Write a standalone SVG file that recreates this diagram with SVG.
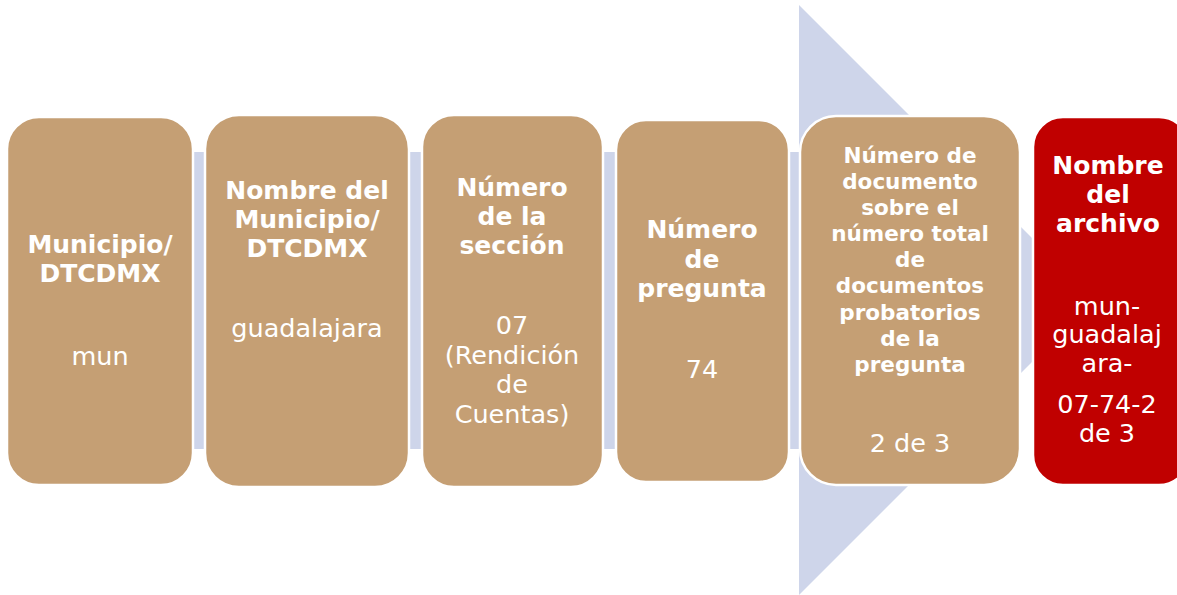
<svg xmlns="http://www.w3.org/2000/svg" width="1177" height="595" viewBox="0 0 1177 595">
  <style>
    .box { fill: #C59F74; stroke: #FFFFFF; stroke-width: 2.5; }
    .red { fill: #C00000; stroke: #FFFFFF; stroke-width: 2.5; }
    .t { font-family: "DejaVu Sans", "Liberation Sans", sans-serif; fill: #FFFFFF; text-anchor: middle; }
    .h { font-weight: bold; font-size: 25px; }
    .hs { font-weight: bold; font-size: 21.5px; }
    .v { font-weight: normal; font-size: 25.5px; }
    .arrow { fill: #CED5EA; }
  </style>
  <rect width="1177" height="595" fill="#FFFFFF"/>
  <g id="background-arrow">
    <polygon class="arrow" points="100,152 799,152 799,5 1094,300 799,595 799,449 100,449"/>
  </g>
  <g id="connectors"></g>
  <g id="node1">
    <rect class="box" x="7" y="117" width="186" height="368" rx="32"/>
    <text class="t h"><tspan x="100" y="253">Municipio/</tspan><tspan x="100" y="282">DTCDMX</tspan></text>
    <text class="t v" x="100" y="365">mun</text>
  </g>
  <g id="node2">
    <rect class="box" x="205" y="115" width="204" height="372" rx="34"/>
    <text class="t h"><tspan x="307" y="199">Nombre del</tspan><tspan x="307" y="228">Municipio/</tspan><tspan x="307" y="257">DTCDMX</tspan></text>
    <text class="t v" x="307" y="337">guadalajara</text>
  </g>
  <g id="node3">
    <rect class="box" x="422" y="115" width="181" height="372" rx="32"/>
    <text class="t h"><tspan x="512" y="196">Número</tspan><tspan x="512" y="225">de la</tspan><tspan x="512" y="254">sección</tspan></text>
    <text class="t v"><tspan x="512" y="334">07</tspan><tspan x="512" y="364">(Rendición</tspan><tspan x="512" y="393">de</tspan><tspan x="512" y="423">Cuentas)</tspan></text>
  </g>
  <g id="node4">
    <rect class="box" x="616" y="120" width="173" height="362" rx="30"/>
    <text class="t h"><tspan x="702" y="238">Número</tspan><tspan x="702" y="268">de</tspan><tspan x="702" y="297">pregunta</tspan></text>
    <text class="t v" x="702" y="378">74</text>
  </g>
  <g id="node5">
    <rect class="box" x="800" y="116" width="220" height="369" rx="36"/>
    <text class="t hs"><tspan x="910" y="163">Número de</tspan><tspan x="910" y="189">documento</tspan><tspan x="910" y="215">sobre el</tspan><tspan x="910" y="241">número total</tspan><tspan x="910" y="267">de</tspan><tspan x="910" y="293">documentos</tspan><tspan x="910" y="320">probatorios</tspan><tspan x="910" y="346">de la</tspan><tspan x="910" y="372">pregunta</tspan></text>
    <text class="t v" x="910" y="452">2 de 3</text>
  </g>
  <g id="node6">
    <rect class="red" x="1033" y="117" width="156" height="368" rx="30"/>
    <text class="t h"><tspan x="1108" y="174">Nombre</tspan><tspan x="1108" y="203">del</tspan><tspan x="1108" y="232">archivo</tspan></text>
    <text class="t v"><tspan x="1107" y="315">mun-</tspan><tspan x="1107" y="343">guadalaj</tspan><tspan x="1107" y="372">ara-</tspan><tspan x="1107" y="413">07-74-2</tspan><tspan x="1107" y="442">de 3</tspan></text>
  </g>
</svg>
